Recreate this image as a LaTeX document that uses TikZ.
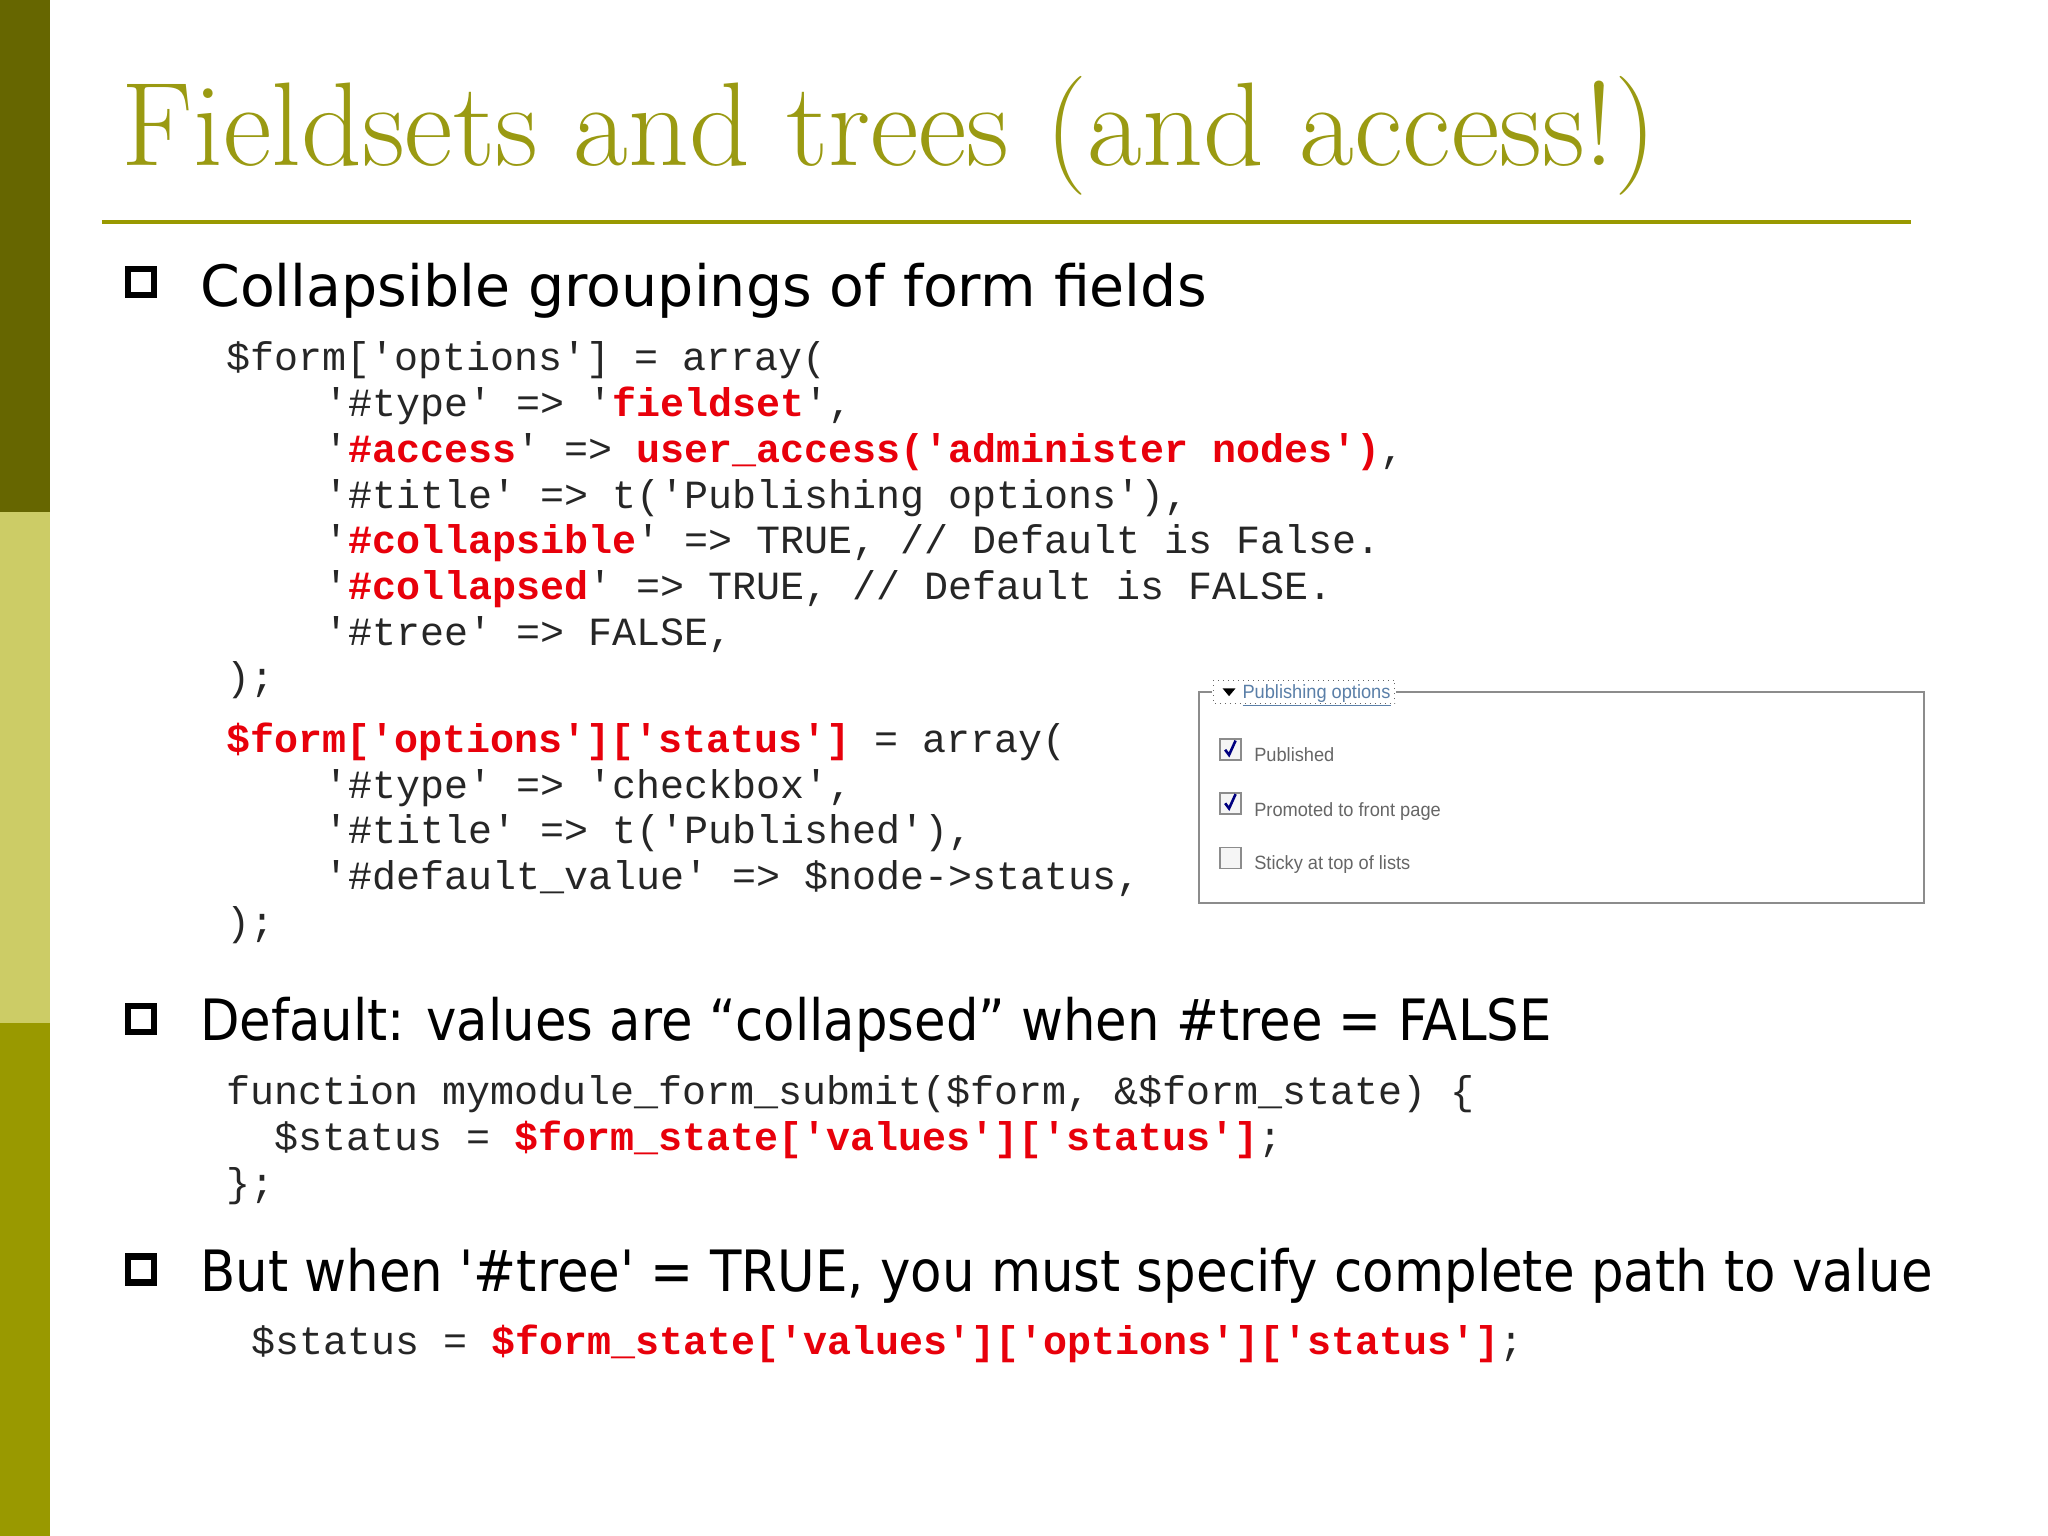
\documentclass[tikz,border=0pt]{standalone}
\usepackage{fontspec}
\newfontfamily\codefont{Liberation Mono}
\newfontfamily\bulfont{DejaVu Sans}
\newfontfamily\uifont{Liberation Sans}
\definecolor{olivedark}{HTML}{666600}
\definecolor{olivelight}{HTML}{CCCC66}
\definecolor{olivemid}{HTML}{999900}
\definecolor{titlecol}{HTML}{9A9A12}
\definecolor{codered}{HTML}{E8000B}
\definecolor{linkblue}{HTML}{5A7FA8}
\newcommand{\R}[1]{\textcolor{codered}{\bfseries #1}}
\tikzset{
  code/.style={anchor=base west, inner sep=0pt, font=\codefont\fontsize{20}{24}\selectfont, text=black!85},
  bul/.style={anchor=base west, inner sep=0pt, font=\bulfont\fontsize{28.5}{34}\selectfont, text=black},
  bulsq/.style={draw=black, line width=3.2pt, minimum size=13pt, inner sep=0pt},
  ui/.style={anchor=base west, inner sep=0pt, font=\uifont\fontsize{9.6}{12}\selectfont, text=black!60, xscale=0.95},
  cbox/.style={draw=black!45, fill=black!4, line width=0.8pt, minimum size=10.5pt, inner sep=0pt}
}
\begin{document}
\begin{tikzpicture}[x=0.6531pt,y=-0.6531pt]
\useasboundingbox (0,0) rectangle (1568,1176);
\fill[white] (0,0) rectangle (1568,1176);
% side bar
\fill[olivedark] (0,0) rectangle (38,392);
\fill[olivelight] (0,392) rectangle (38,783);
\fill[olivemid] (0,783) rectangle (38,1176);
% title
\node[anchor=base west, inner sep=0pt, text=titlecol, font=\fontsize{59.5}{66}\selectfont] (title) at (93,127) {Fieldsets and trees (and access!)};
\draw[olivemid, line width=2.2pt] (78,170) -- (1463,170);
% bullets
\node[bulsq] (b1) at (108,216) {};
\node[bul] (t1) at (153,235) {Collapsible groupings of form fields};
\node[bulsq] (b2) at (108,780) {};
\node[bul, xscale=0.9] (t2) at (153,797) {Default: values are “collapsed” when \#tree = FALSE};
\node[bulsq] (b3) at (108,972) {};
\node[bul, xscale=0.902] (t3) at (153,989) {But when '\#tree' = TRUE, you must specify complete path to value};
% code block 1
\node[code] (c1) at (173,284) {\$form['options'] = array(};
\node[code] (c2) at (248,319) {'\#type' => '\R{fieldset}',};
\node[code] (c3) at (248,354) {'\R{\#access}' => \R{user\_access('administer nodes')},};
\node[code] (c4) at (248,389) {'\#title' => t('Publishing options'),};
\node[code] (c5) at (248,424) {'\R{\#collapsible}' => TRUE, // Default is False.};
\node[code] (c6) at (248,459) {'\R{\#collapsed}' => TRUE, // Default is FALSE.};
\node[code] (c7) at (248,494) {'\#tree' => FALSE,};
\node[code] (c8) at (173,529) {);};
% code block 2
\node[code] (d1) at (173,576) {\R{\$form['options']['status']} = array(};
\node[code] (d2) at (248,611) {'\#type' => 'checkbox',};
\node[code] (d3) at (248,646) {'\#title' => t('Published'),};
\node[code] (d4) at (248,681) {'\#default\_value' => \$node->status,};
\node[code] (d5) at (173,716) {);};
% code block 3
\node[code] (e1) at (173,846) {function mymodule\_form\_submit(\$form, \&\$form\_state) \{};
\node[code] (e2) at (210,881) {\$status = \R{\$form\_state['values']['status']};};
\node[code] (e3) at (173,916) {\};};
\node[code] (f1) at (192,1037) {\$status = \R{\$form\_state['values']['options']['status']};};
% fieldset widget
\draw[black!45, line width=1pt] (918,530) rectangle (1473,691);
\fill[white] (928,520) rectangle (1069,540);
\draw[black!60, dotted, line width=0.5pt] (929,521) rectangle (1068,539);
\fill[black] (936,527) -- (946,527) -- (941,533) -- cycle;
\node[anchor=base west, inner sep=0pt, font=\uifont\fontsize{9.6}{12}\selectfont, text=linkblue, xscale=0.95] (leg) at (951,535) {\underline{Publishing options}};
\node[cbox] (k1) at (942,574) {};
\node[cbox] (k2) at (942,615) {};
\node[cbox] (k3) at (942,657) {};
\draw[blue!50!black, line width=1.3pt] (938,574) -- (941,578) -- (946,567);
\draw[blue!50!black, line width=1.3pt] (938,615) -- (941,619) -- (946,608);
\node[ui] (l1) at (960,583) {Published};
\node[ui] (l2) at (960,625) {Promoted to front page};
\node[ui] (l3) at (960,666) {Sticky at top of lists};
\end{tikzpicture}
\end{document}
